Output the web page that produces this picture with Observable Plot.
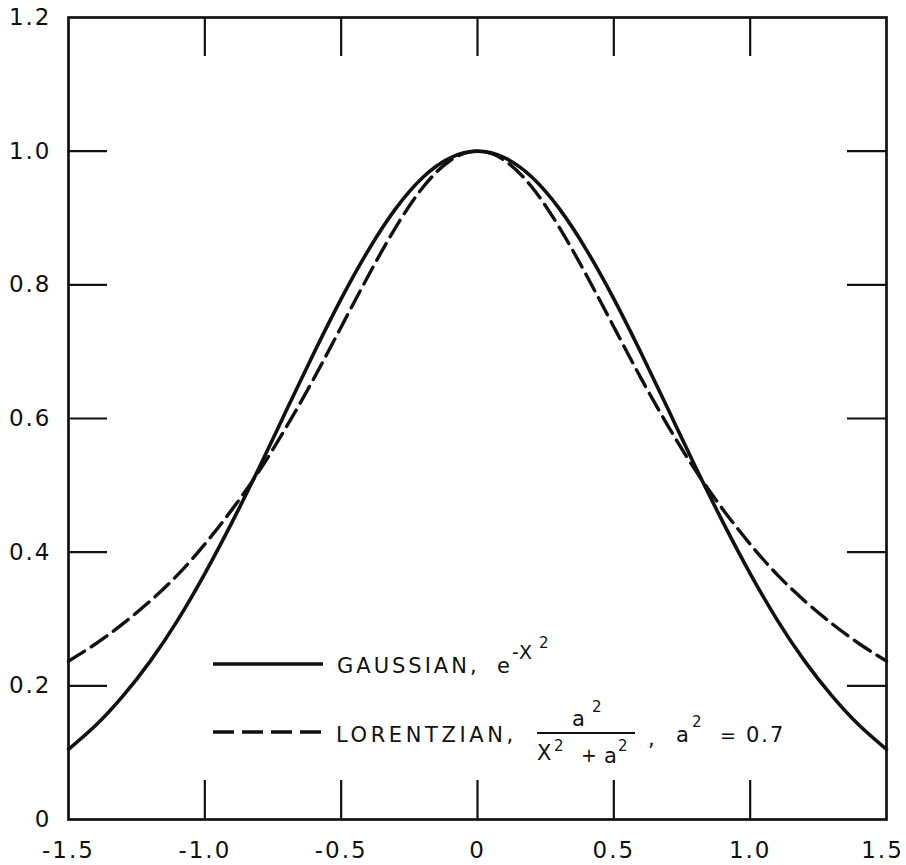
<!DOCTYPE html>
<html>
<head>
<meta charset="utf-8">
<script src="https://cdn.jsdelivr.net/npm/d3@7"></script>
<script src="https://cdn.jsdelivr.net/npm/@observablehq/plot@0.6"></script>
<style>
  html, body { margin: 0; padding: 0; background: #fff; }
  #wrap { position: relative; width: 906px; height: 865px; }
  #chart svg text { letter-spacing: 2px; }
  #legend { position: absolute; left: 0; top: 0; pointer-events: none; }
  #legend text { font-family: "DejaVu Sans", sans-serif; fill: #111; }
</style>
</head>
<body>
<div id="wrap"><div id="chart"></div></div>
<script>
// x positions sampled along the curves
const xValues = [-1.5, -1.4, -1.3, -1.2, -1.1, -1.0, -0.9, -0.8, -0.7, -0.6, -0.5, -0.4, -0.3, -0.2, -0.1,
  0.0, 0.1, 0.2, 0.3, 0.4, 0.5, 0.6, 0.7, 0.8, 0.9, 1.0, 1.1, 1.2, 1.3, 1.4, 1.5];
// Gaussian curve values
const gaussianValues = [0.105, 0.141, 0.185, 0.237, 0.298, 0.368, 0.445, 0.527, 0.613, 0.698, 0.779, 0.852, 0.914, 0.961, 0.990,
  1.000, 0.990, 0.961, 0.914, 0.852, 0.779, 0.698, 0.613, 0.527, 0.445, 0.368, 0.298, 0.237, 0.185, 0.141, 0.105];
// Lorentzian curve values
const lorentzianValues = [0.237, 0.263, 0.293, 0.327, 0.366, 0.412, 0.464, 0.522, 0.588, 0.660, 0.737, 0.814, 0.886, 0.946, 0.986,
  1.000, 0.986, 0.946, 0.886, 0.814, 0.737, 0.660, 0.588, 0.522, 0.464, 0.412, 0.366, 0.327, 0.293, 0.263, 0.237];
// axis ticks
const xTickLabels = [-1.5, -1.0, -0.5, 0, 0.5, 1.0];
const xLastLabel = [1.5];
const yTickLabels = [0, 0.2, 0.4, 0.6, 0.8, 1.0, 1.2];
const xInnerTicks = [-1.0, -0.5, 0, 0.5, 1.0];
const yInnerTicks = [0.2, 0.4, 0.6, 0.8, 1.0];

const gaussRows = xValues.map((x, i) => ({x, y: gaussianValues[i]}));
const lorentzRows = xValues.map((x, i) => ({x, y: lorentzianValues[i]}));

const W = 906, H = 865;
const mL = 68, mR = 20, mT = 17, mB = 46;
const pw = W - mL - mR, ph = H - mT - mB;
const tickLen = 39;
const ink = "#111";
const fmt = d => d === 0 ? "0" : d.toFixed(1);

const chart = Plot.plot({
  width: W, height: H,
  marginLeft: mL, marginRight: mR, marginTop: mT, marginBottom: mB,
  style: {fontFamily: "'DejaVu Sans', sans-serif", fontSize: "23px", color: ink, background: "#fff"},
  x: {domain: [-1.5, 1.5], label: null},
  y: {domain: [0, 1.2], label: null},
  marks: [
    Plot.axisX(xTickLabels, {tickSize: 0, tickPadding: 22, tickFormat: fmt, fontSize: 23, fill: ink, label: null}),
    Plot.axisX(xLastLabel, {tickSize: 0, tickPadding: 22, tickFormat: fmt, fontSize: 23, fill: ink, label: null, dx: -4}),
    Plot.axisY(yTickLabels, {tickSize: 0, tickPadding: 17, tickFormat: fmt, fontSize: 23, fill: ink, label: null}),
    // inward ticks on all four sides
    Plot.tickY(yInnerTicks, {y: d => d, insetRight: pw - tickLen, stroke: ink, strokeWidth: 2.2}),
    Plot.tickY(yInnerTicks, {y: d => d, insetLeft: pw - tickLen, stroke: ink, strokeWidth: 2.2}),
    Plot.tickX(xInnerTicks, {x: d => d, insetTop: ph - tickLen, stroke: ink, strokeWidth: 2.2}),
    Plot.tickX(xInnerTicks, {x: d => d, insetBottom: ph - tickLen, stroke: ink, strokeWidth: 2.2}),
    Plot.frame({stroke: ink, strokeWidth: 2.7}),
    Plot.line(gaussRows, {x: "x", y: "y", curve: "natural", stroke: ink, strokeWidth: 3.6}),
    Plot.line(lorentzRows, {x: "x", y: "y", curve: "natural", stroke: ink, strokeWidth: 3.4, strokeDasharray: "19,8"})
  ]
});
document.getElementById("chart").appendChild(chart);

// legend overlay (inside the frame, lower middle)
const leg = d3.select("#wrap").append("svg").attr("id", "legend").attr("width", W).attr("height", H);
function t(str, x, y, size, ls) {
  leg.append("text").attr("x", x).attr("y", y).attr("font-size", size)
    .attr("letter-spacing", ls || 0).text(str);
}
// Gaussian entry
leg.append("line").attr("x1", 213).attr("x2", 323).attr("y1", 664).attr("y2", 664)
  .attr("stroke", ink).attr("stroke-width", 3.4);
t("GAUSSIAN,", 337, 673, 21, 3);
t("e", 497, 673, 21, 0);
t("-X", 512, 659, 19, 1);
t("2", 539, 648, 15, 0);
// Lorentzian entry
leg.append("line").attr("x1", 213).attr("x2", 323).attr("y1", 732).attr("y2", 732)
  .attr("stroke", ink).attr("stroke-width", 3.4).attr("stroke-dasharray", "21,8");
t("LORENTZIAN,", 336, 742, 21, 3.6);
t("a", 572, 726, 21, 0);
t("2", 592, 712, 15, 0);
leg.append("line").attr("x1", 537).attr("x2", 635).attr("y1", 733).attr("y2", 733)
  .attr("stroke", ink).attr("stroke-width", 2);
t("X", 537, 760, 21, 0);
t("2", 554, 751, 15, 0);
t("+", 581, 762, 19, 0);
t("a", 604, 763, 21, 0);
t("2", 618, 751, 15, 0);
t(",", 648, 746, 21, 0);
t("a", 676, 742, 21, 0);
t("2", 692, 727, 15, 0);
t("=", 720, 742, 19, 0);
t("0.7", 746, 742, 21, 2);
</script>
</body>
</html>
